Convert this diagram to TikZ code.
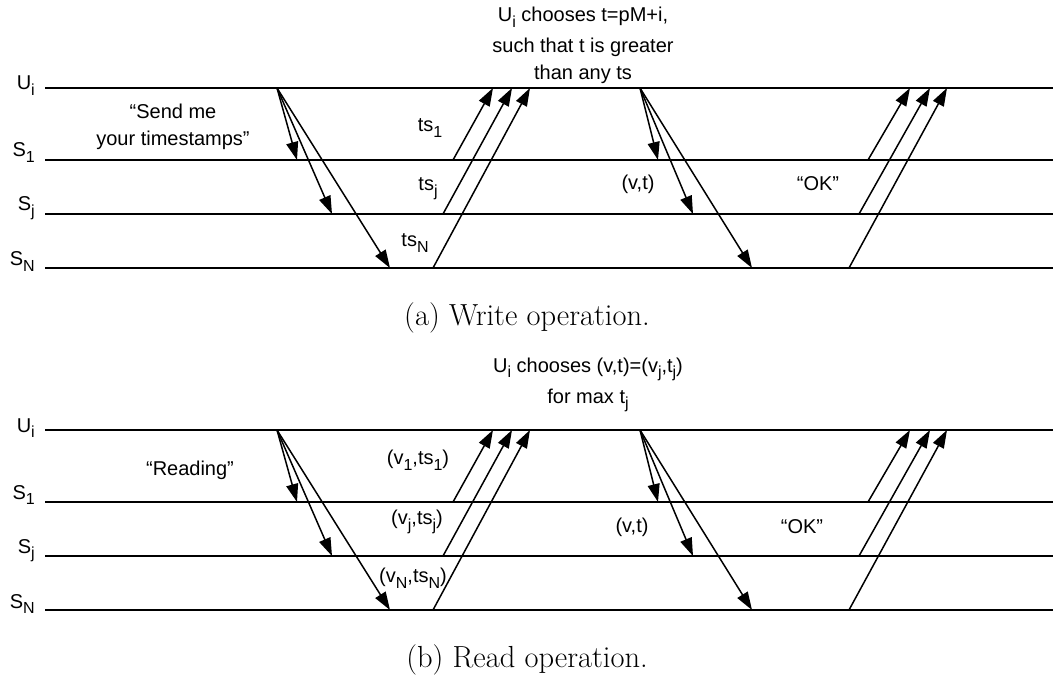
\documentclass[tikz,border=0pt]{standalone}
\usepackage{fontspec}
\setsansfont{Liberation Sans}
\usetikzlibrary{arrows.meta}
% lowered, slightly smaller index
\newcommand\dn[1]{\raisebox{-0.55ex}{\scalebox{0.8}{#1}}}
\tikzset{
  lane/.style={line width=1.9pt},
  msg/.style={line width=1.5pt, -{Triangle[length=18pt,width=12pt]}},
  lbl/.style={font=\sffamily\fontsize{20}{27}\selectfont, inner sep=0pt},
  captxt/.style={font=\fontsize{30.5}{36}\selectfont, inner sep=0pt},
}
% lifelines, lane names and the two message fans; #1 = name prefix
\newcommand\drawlanes[1]{%
  \foreach \n/\yy in {u/88, s1/160, sj/214, sn/268} {
    \coordinate (#1\n-l) at (45,\yy);
    \coordinate (#1\n-r) at (1053,\yy);
    \draw[lane] (#1\n-l) -- (#1\n-r);
  }
  \node[lbl, anchor=base east] (#1u-name)  at (35,90)  {U\dn{i}};
  \node[lbl, anchor=base east] (#1s1-name) at (35,157) {S\dn{1}};
  \node[lbl, anchor=base east] (#1sj-name) at (35,211) {S\dn{j}};
  \node[lbl, anchor=base east] (#1sn-name) at (35,266) {S\dn{N}};
  % first round: request out, replies back
  \coordinate (#1o1) at (277,88);
  \coordinate (#1d11) at (297,160);
  \coordinate (#1d1j) at (332,214);
  \coordinate (#1d1n) at (390,268);
  \draw[msg] (#1o1) -- (#1d11);
  \draw[msg] (#1o1) -- (#1d1j);
  \draw[msg] (#1o1) -- (#1d1n);
  \coordinate (#1r11) at (453,160);
  \coordinate (#1r1j) at (443,214);
  \coordinate (#1r1n) at (433,268);
  \coordinate (#1e11) at (493,88);
  \coordinate (#1e1j) at (512,88);
  \coordinate (#1e1n) at (530,88);
  \draw[msg] (#1r11) -- (#1e11);
  \draw[msg] (#1r1j) -- (#1e1j);
  \draw[msg] (#1r1n) -- (#1e1n);
  % second round
  \coordinate (#1o2) at (640,88);
  \coordinate (#1d21) at (658,160);
  \coordinate (#1d2j) at (693,214);
  \coordinate (#1d2n) at (752,268);
  \draw[msg] (#1o2) -- (#1d21);
  \draw[msg] (#1o2) -- (#1d2j);
  \draw[msg] (#1o2) -- (#1d2n);
  \coordinate (#1r21) at (868,160);
  \coordinate (#1r2j) at (859,214);
  \coordinate (#1r2n) at (849,268);
  \coordinate (#1e21) at (910,88);
  \coordinate (#1e2j) at (930,88);
  \coordinate (#1e2n) at (947,88);
  \draw[msg] (#1r21) -- (#1e21);
  \draw[msg] (#1r2j) -- (#1e2j);
  \draw[msg] (#1r2n) -- (#1e2n);
}
\begin{document}
\begin{tikzpicture}[x=1pt, y=-1pt]
  \useasboundingbox (0,0) rectangle (1053,679);

  % (a) write
  \drawlanes{a}
  \node[lbl, align=center, anchor=north] (anote) at (583,7)
    {U\dn{i} chooses t=pM+i,\\[4pt] such that t is greater\\ than any ts};
  \node[lbl, align=center] (asend) at (173,127) {“Send me\\your timestamps”};
  \node[lbl] (ats1) at (430,128) {ts\dn{1}};
  \node[lbl] (atsj) at (428,189) {ts\dn{j}};
  \node[lbl] (atsn) at (415,243) {ts\dn{N}};
  \node[lbl] (avt) at (638,184) {(v,t)};
  \node[lbl] (aok) at (818,184) {“OK”};
  \node[captxt] (acap) at (527,318) {(a) Write operation.};

  % (b) read
  \begin{scope}[shift={(0,342)}]
    \drawlanes{b}
  \end{scope}
  \node[lbl, align=center] (bnote) at (588,385)
    {U\dn{i} chooses (v,t)=(v\dn{j},t\dn{j})\\[4pt] for max t\dn{j}};
  \node[lbl] (bread) at (190,470) {“Reading”};
  \node[lbl] (bv1) at (418,460) {(v\dn{1},ts\dn{1})};
  \node[lbl] (bvj) at (417,522) {(v\dn{j},ts\dn{j})};
  \node[lbl] (bvn) at (413,578) {(v\dn{N},ts\dn{N})};
  \node[lbl] (bvt) at (632,527) {(v,t)};
  \node[lbl] (bok) at (802,527) {“OK”};
  \node[captxt] (bcap) at (527,660) {(b) Read operation.};
\end{tikzpicture}
\end{document}
